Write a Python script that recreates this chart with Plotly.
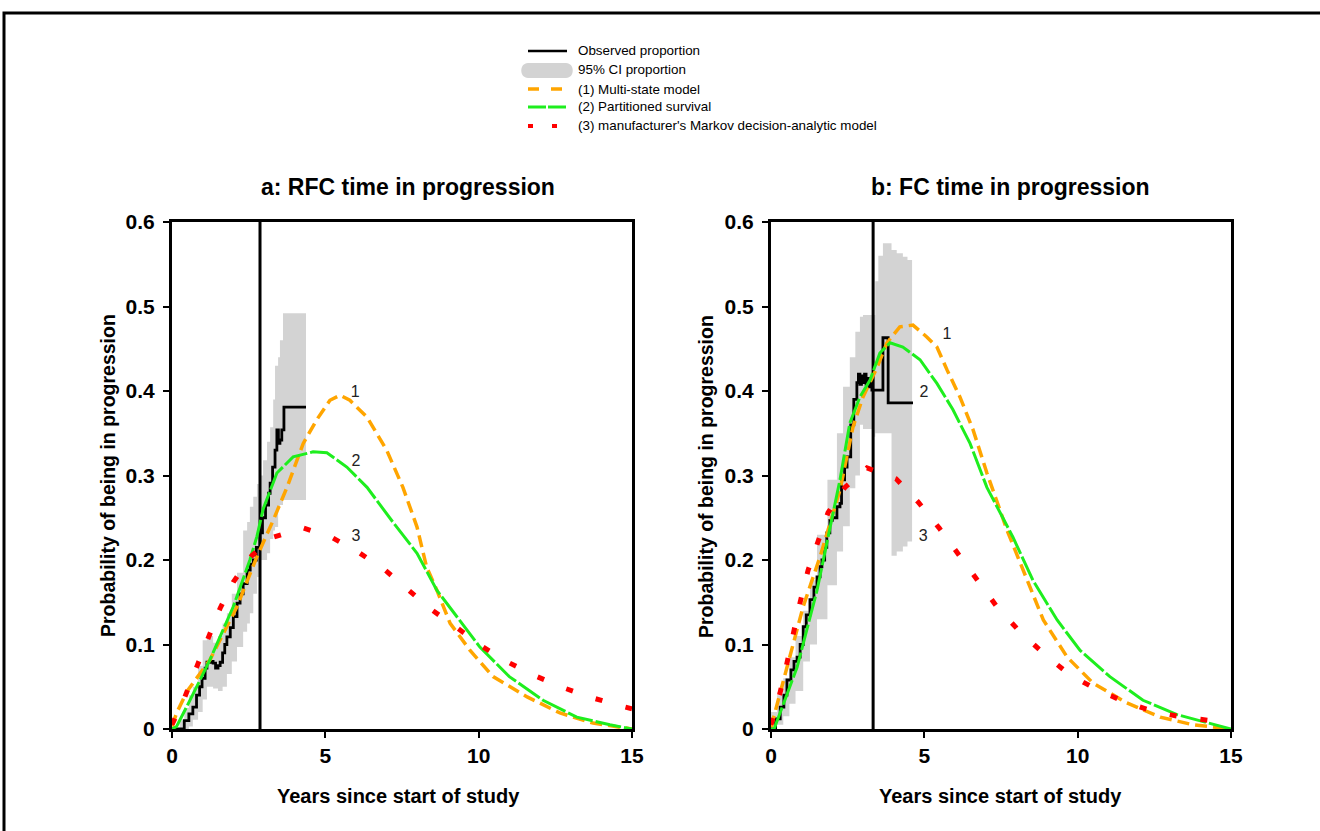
import plotly.graph_objects as go

W, H = 1320, 831

# ---------------- Data ----------------
# Panel a: RFC
a_obs_t = [0, 0.28, 0.4, 0.55, 0.68, 0.8, 0.9, 0.98, 1.08, 1.14, 1.25, 1.34, 1.42, 1.5, 1.57, 1.65, 1.72,
           1.79, 1.9, 2.0, 2.12, 2.22, 2.32, 2.45, 2.55, 2.65, 2.75, 2.87, 2.95, 3.05, 3.15, 3.2, 3.28, 3.36,
           3.42, 3.47, 3.52, 3.58, 3.65, 4.37]
a_obs_p = [0, 0.0, 0.01, 0.018, 0.026, 0.04, 0.05, 0.06, 0.072, 0.079, 0.08, 0.078, 0.072, 0.075, 0.079,
           0.09, 0.1, 0.109, 0.12, 0.133, 0.149, 0.16, 0.172, 0.188, 0.195, 0.2, 0.215, 0.232, 0.25, 0.265,
           0.279, 0.291, 0.31, 0.33, 0.354, 0.338, 0.342, 0.354, 0.381, 0.381]

a_ci_t = [0.25, 0.4, 0.55, 0.68, 0.85, 1.0, 1.14, 1.34, 1.5, 1.65, 1.79, 1.95, 2.12, 2.32, 2.45, 2.54, 2.65,
          2.77, 2.87, 2.97, 3.1, 3.2, 3.3, 3.36, 3.46, 3.52, 3.62, 4.37]
a_ci_hi = [0.01, 0.025, 0.04, 0.05, 0.075, 0.105, 0.11, 0.102, 0.11, 0.125, 0.137, 0.16, 0.185, 0.235, 0.245,
           0.263, 0.275, 0.29, 0.3, 0.318, 0.34, 0.357, 0.39, 0.43, 0.44, 0.46, 0.492, 0.492]
a_ci_lo = [0, 0, 0.003, 0.011, 0.02, 0.035, 0.05, 0.048, 0.045, 0.05, 0.065, 0.08, 0.097, 0.115, 0.125, 0.137,
           0.16, 0.18, 0.2, 0.2, 0.208, 0.225, 0.235, 0.239, 0.263, 0.265, 0.271, 0.271]

a_ms_t = [0, 0.15, 0.5, 1.24, 2.12, 2.77, 3.3, 3.75, 4.28, 4.72, 5.15, 5.48, 5.8, 6.36, 7.0, 7.53, 7.99, 8.3,
          8.64, 9.07, 9.72, 10.47, 11.58, 12.65, 13.73, 15]
a_ms_p = [0.003, 0.019, 0.045, 0.082, 0.145, 0.204, 0.247, 0.286, 0.338, 0.366, 0.389, 0.395, 0.389, 0.369,
          0.33, 0.286, 0.239, 0.192, 0.164, 0.125, 0.093, 0.062, 0.038, 0.019, 0.007, 0.0]

a_ps_t = [0, 0.15, 0.6, 1.24, 2.0, 2.54, 2.77, 2.97, 3.42, 3.95, 4.6, 5.05, 5.7, 6.36, 7.2, 7.99, 8.64, 10.04,
          11.0, 12.1, 13.2, 14.28, 15]
a_ps_p = [0, 0.003, 0.035, 0.082, 0.145, 0.2, 0.228, 0.26, 0.303, 0.322, 0.328, 0.327, 0.31, 0.286, 0.245,
          0.208, 0.164, 0.097, 0.062, 0.034, 0.014, 0.005, 0.0]

a_mk_t = [0, 0.42, 0.8, 1.19, 1.57, 2.0, 2.6, 3.3, 4.28, 5.2, 6.13, 6.95, 7.7, 8.47, 9.29, 10.14, 10.96, 11.84,
          12.75, 13.7, 14.67, 15]
a_mk_p = [0.005, 0.038, 0.073, 0.109, 0.143, 0.174, 0.205, 0.227, 0.238, 0.227, 0.208, 0.188, 0.164, 0.141,
          0.12, 0.097, 0.079, 0.063, 0.049, 0.037, 0.027, 0.024]

# Panel b: FC
b_obs_t = [0, 0.15, 0.3, 0.42, 0.52, 0.65, 0.75, 0.85, 0.95, 1.05, 1.15, 1.27, 1.4, 1.5, 1.6, 1.66, 1.75, 1.82,
           1.92, 2.0, 2.15, 2.25, 2.3, 2.4, 2.48, 2.6, 2.7, 2.8, 2.85, 2.9, 2.95, 3.0, 3.05, 3.1, 3.15, 3.2,
           3.25, 3.29, 3.65, 3.82, 4.63]
b_obs_p = [0, 0.012, 0.026, 0.04, 0.058, 0.07, 0.08, 0.085, 0.1, 0.121, 0.135, 0.153, 0.168, 0.18, 0.192, 0.2,
           0.215, 0.232, 0.247, 0.25, 0.263, 0.267, 0.295, 0.31, 0.322, 0.36, 0.39, 0.41, 0.42, 0.408, 0.418,
           0.41, 0.42, 0.408, 0.415, 0.405, 0.412, 0.401, 0.463, 0.386, 0.386]

b_ci_t = [0, 0.2, 0.4, 0.6, 0.8, 1.05, 1.27, 1.5, 1.84, 2.15, 2.35, 2.57, 2.75, 2.9, 3.0, 3.3, 3.4, 3.5, 3.65,
          3.93, 4.1, 4.3, 4.45, 4.6]
b_ci_hi = [0.02, 0.04, 0.06, 0.085, 0.11, 0.14, 0.176, 0.23, 0.295, 0.35, 0.405, 0.44, 0.47, 0.488, 0.49, 0.49,
           0.53, 0.56, 0.575, 0.567, 0.563, 0.559, 0.555, 0.551]
b_ci_lo = [0, 0.005, 0.015, 0.03, 0.045, 0.08, 0.1, 0.13, 0.17, 0.21, 0.24, 0.285, 0.3, 0.36, 0.355, 0.346,
           0.35, 0.35, 0.35, 0.205, 0.21, 0.216, 0.222, 0.227]

b_ms_t = [0, 0.52, 1.05, 1.6, 2.25, 2.67, 3.0, 3.46, 3.78, 4.2, 4.63, 5.08, 5.41, 5.74, 6.16, 6.59, 7.04, 7.7,
          8.23, 8.88, 9.66, 10.51, 11.6, 12.69, 13.77, 15]
b_ms_p = [0.002, 0.073, 0.145, 0.204, 0.283, 0.357, 0.393, 0.428, 0.457, 0.476, 0.478, 0.464, 0.452, 0.425,
          0.393, 0.354, 0.303, 0.235, 0.188, 0.129, 0.085, 0.054, 0.031, 0.014, 0.005, 0.0]

b_ps_t = [0, 0.1, 0.85, 1.5, 2.25, 2.57, 2.9, 3.23, 3.55, 3.88, 4.3, 4.86, 5.41, 5.93, 6.49, 7.04, 7.89, 8.54,
          9.33, 10.08, 11.05, 12.13, 13.24, 14.3, 15]
b_ps_p = [0, 0.0, 0.073, 0.164, 0.295, 0.362, 0.393, 0.413, 0.445, 0.457, 0.452, 0.437, 0.409, 0.378, 0.338,
          0.286, 0.227, 0.176, 0.129, 0.093, 0.062, 0.034, 0.017, 0.007, 0.0]

b_mk_t = [0, 0.13, 0.29, 0.52, 0.72, 0.95, 1.21, 1.53, 1.86, 2.41, 3.13, 4.08, 4.79, 5.48, 6.1, 6.72, 7.4, 8.12,
          8.93, 9.75, 10.66, 11.54, 12.45, 13.43, 14.37, 15]
b_mk_p = [0.005, 0.022, 0.042, 0.078, 0.114, 0.15, 0.188, 0.221, 0.256, 0.286, 0.309, 0.296, 0.269, 0.238,
          0.208, 0.176, 0.143, 0.115, 0.088, 0.064, 0.046, 0.032, 0.021, 0.014, 0.01, 0.007]

cutoff_years = [2.87, 3.33]

panel_titles = ["a: RFC time in progression", "b: FC time in progression"]
x_title = "Years since start of study"
y_title = "Probability of being in progression"
x_ticks = [0, 5, 10, 15]
y_ticks = [0, 0.1, 0.2, 0.3, 0.4, 0.5, 0.6]
y_ticklabels = ["0", "0.1", "0.2", "0.3", "0.4", "0.5", "0.6"]
legend_labels = ["Observed proportion", "95% CI proportion", "(1) Multi-state model",
                 "(2) Partitioned survival", "(3) manufacturer's Markov decision-analytic model"]
# curve label positions (data units)
a_label_t = [5.97, 6.0, 6.0]
a_label_p = [0.398, 0.316, 0.227]
b_label_t = [5.74, 4.99, 4.96]
b_label_p = [0.466, 0.398, 0.227]
curve_labels = ["1", "2", "3"]

# ---------------- Styles ----------------
FONT = "Liberation Sans, Arial, sans-serif"
GRAY = "#D3D3D3"
ORANGE = "#FFA500"
GREEN = "#1EEE1E"
RED = "#FF0000"
ORANGE_DASH = "12px,6px"
GREEN_DASH = "26px,3px"
RED_DASH = "7px,24px"

fig = go.Figure()

panels = [
    dict(xa="x", ya="y", obs=(a_obs_t, a_obs_p), ci=(a_ci_t, a_ci_lo, a_ci_hi), ms=(a_ms_t, a_ms_p),
         ps=(a_ps_t, a_ps_p), mk=(a_mk_t, a_mk_p), cut=cutoff_years[0], lab=(a_label_t, a_label_p)),
    dict(xa="x2", ya="y2", obs=(b_obs_t, b_obs_p), ci=(b_ci_t, b_ci_lo, b_ci_hi), ms=(b_ms_t, b_ms_p),
         ps=(b_ps_t, b_ps_p), mk=(b_mk_t, b_mk_p), cut=cutoff_years[1], lab=(b_label_t, b_label_p)),
]

for p in panels:
    xa, ya = p["xa"], p["ya"]
    t, lo, hi = p["ci"]
    fig.add_trace(go.Scatter(x=t, y=lo, mode="lines", line=dict(width=0, shape="hv", color=GRAY),
                             xaxis=xa, yaxis=ya, showlegend=False, hoverinfo="skip"))
    fig.add_trace(go.Scatter(x=t, y=hi, mode="lines", line=dict(width=0, shape="hv", color=GRAY),
                             fill="tonexty", fillcolor=GRAY, xaxis=xa, yaxis=ya, showlegend=False))
    fig.add_trace(go.Scatter(x=[p["cut"], p["cut"]], y=[0, 0.6], mode="lines",
                             line=dict(color="black", width=3), xaxis=xa, yaxis=ya, showlegend=False))
    fig.add_trace(go.Scatter(x=p["obs"][0], y=p["obs"][1], mode="lines",
                             line=dict(color="black", width=2.8, shape="hv"), xaxis=xa, yaxis=ya,
                             showlegend=False))
    fig.add_trace(go.Scatter(x=p["ms"][0], y=p["ms"][1], mode="lines",
                             line=dict(color=ORANGE, width=3.5, dash=ORANGE_DASH), xaxis=xa, yaxis=ya,
                             showlegend=False))
    fig.add_trace(go.Scatter(x=p["ps"][0], y=p["ps"][1], mode="lines",
                             line=dict(color=GREEN, width=3, dash=GREEN_DASH), xaxis=xa, yaxis=ya,
                             showlegend=False))
    fig.add_trace(go.Scatter(x=p["mk"][0], y=p["mk"][1], mode="lines",
                             line=dict(color=RED, width=5, dash=RED_DASH), xaxis=xa, yaxis=ya,
                             showlegend=False))
    lt, lp = p["lab"]
    fig.add_trace(go.Scatter(x=lt, y=lp, mode="text", text=curve_labels,
                             textfont=dict(family=FONT, size=16, color="#222222"),
                             xaxis=xa, yaxis=ya, showlegend=False))


def px(x):
    return x / W


def py(y):
    return 1 - y / H


axis_common = dict(showline=True, linecolor="black", linewidth=3, mirror=True, ticks="outside",
                   ticklen=6, tickwidth=2, tickcolor="black", showgrid=False, zeroline=False,
                   automargin=False,
                   tickfont=dict(family=FONT, size=21, color="black", weight="bold"))

ydom = [py(729), py(222)]
fig.update_layout(
    width=W, height=H,
    margin=dict(l=0, r=0, t=0, b=0, pad=0, autoexpand=False),
    paper_bgcolor="white", plot_bgcolor="white",
    showlegend=False,
    xaxis=dict(domain=[px(172), px(632)], range=[0, 15], tickvals=x_ticks, anchor="y", **axis_common),
    yaxis=dict(domain=ydom, range=[0, 0.6], tickvals=y_ticks, ticktext=y_ticklabels, anchor="x",
               ticklabelstandoff=4, **axis_common),
    xaxis2=dict(domain=[px(771), px(1231)], range=[0, 15], tickvals=x_ticks, anchor="y2", **axis_common),
    yaxis2=dict(domain=ydom, range=[0, 0.6], tickvals=y_ticks, ticktext=y_ticklabels, anchor="x2",
                ticklabelstandoff=4, **axis_common),
)

ann = []
# panel titles
for cx, title in zip([408, 1010], panel_titles):
    ann.append(dict(x=px(cx), y=py(187), xref="paper", yref="paper", text=title, showarrow=False,
                    xanchor="center", yanchor="middle",
                    font=dict(family=FONT, size=23, color="black", weight="bold")))
# axis titles
for cx in [399, 1000]:
    ann.append(dict(x=px(cx), y=py(796), xref="paper", yref="paper", text=x_title, showarrow=False,
                    xanchor="center", yanchor="middle",
                    font=dict(family=FONT, size=20, color="black", weight="bold")))
for cx in [108, 706]:
    ann.append(dict(x=px(cx), y=py(476), xref="paper", yref="paper", text=y_title, showarrow=False,
                    textangle=-90, xanchor="center", yanchor="middle",
                    font=dict(family=FONT, size=19.5, color="black", weight="bold")))
# legend text
leg_rows = [51, 70, 89, 107, 126]
for ry, lab in zip(leg_rows, legend_labels):
    ann.append(dict(x=px(576), y=py(ry), xref="paper", yref="paper", text=lab, showarrow=False,
                    xanchor="left", yanchor="middle",
                    font=dict(family=FONT, size=13.4, color="black")))
fig.update_layout(annotations=ann)

shapes = []
# outer frame
shapes.append(dict(type="rect", xref="paper", yref="paper", x0=px(4), x1=1.2, y0=-0.2, y1=py(13),
                   line=dict(color="black", width=3), fillcolor="rgba(0,0,0,0)", layer="above"))
# legend glyphs
shapes.append(dict(type="line", xref="paper", yref="paper", x0=px(528), x1=px(567), y0=py(51), y1=py(51),
                   line=dict(color="black", width=2.5)))
gx0, gx1, gy0, gy1 = 528, 566, 63, 78
r = 9
path = (f"M {px(gx0)},{py(gy0)} L {px(gx1)},{py(gy0)} "
        f"C {px(gx1 + r)},{py(gy0)} {px(gx1 + r)},{py(gy1)} {px(gx1)},{py(gy1)} "
        f"L {px(gx0)},{py(gy1)} "
        f"C {px(gx0 - r)},{py(gy1)} {px(gx0 - r)},{py(gy0)} {px(gx0)},{py(gy0)} Z")
shapes.append(dict(type="path", xref="paper", yref="paper", path=path, fillcolor=GRAY,
                   line=dict(width=0)))
shapes.append(dict(type="line", xref="paper", yref="paper", x0=px(528), x1=px(567), y0=py(89), y1=py(89),
                   line=dict(color=ORANGE, width=3.5, dash="11px,12px")))
shapes.append(dict(type="line", xref="paper", yref="paper", x0=px(528), x1=px(567), y0=py(107), y1=py(107),
                   line=dict(color=GREEN, width=3, dash="18px,2px")))
shapes.append(dict(type="line", xref="paper", yref="paper", x0=px(528), x1=px(567), y0=py(126), y1=py(126),
                   line=dict(color=RED, width=4, dash="5px,19px")))
fig.update_layout(shapes=shapes)

fig.write_html(
    "out.html",
    post_script="document.body.style.margin='0';document.body.style.overflow='hidden';"
                "document.documentElement.style.overflow='hidden';",
)
